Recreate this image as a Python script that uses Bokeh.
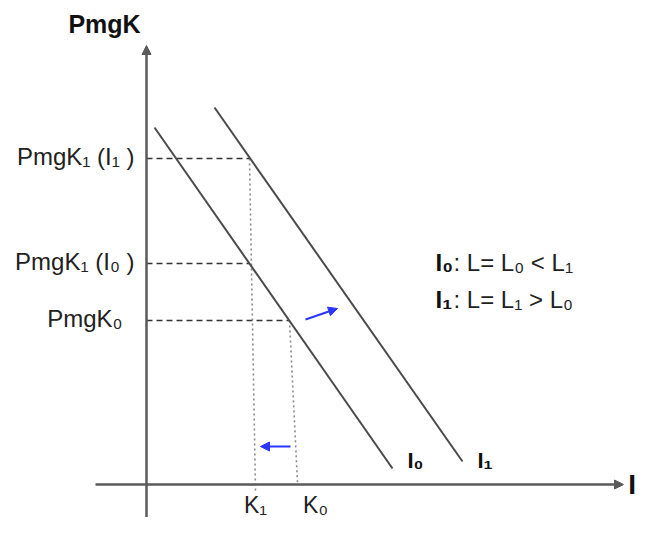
from bokeh.plotting import figure
from bokeh.models import Arrow, NormalHead, ColumnDataSource, Range1d
from bokeh.core.properties import value
from bokeh.embed import file_html
from bokeh.resources import INLINE

# ---------------- data (K on x, PmgK on y) ----------------
iso_names = ["I₀", "I₁"]
iso_k_start = [0.8, 6.8]
iso_p_start = [35.7, 37.7]
iso_k_end = [24.6, 31.6]
iso_p_end = [1.6, 2.3]

pmgk_labels = ["PmgK₁ (I₁ )", "PmgK₁ (I₀ )", "PmgK₀"]
pmgk_values = [32.6, 22.1, 16.4]
pmgk_k = [10.3, 10.3, 14.3]

k_labels = ["K₁", "K₀"]
k_values = [10.3, 14.3]
k_top = [32.6, 16.4]
k_at_axis = [10.9, 15.1]
k_bottom = [-0.6, 0.2]

shift_k0 = [15.9, 14.4]
shift_p0 = [16.5, 3.8]
shift_k1 = [19.1, 11.4]
shift_p1 = [17.6, 3.8]

legend_bold = ["I₀", "I₁"]
legend_rest = [": L= L₀ < L₁", ": L= L₁ > L₀"]
legend_p = [22.2, 18.5]

axis_k_range = [-5.1, 47.7]
axis_p_range = [-3.3, 43.9]

# ---------------- figure ----------------
FONT = value("Liberation Sans")
W, H = 636, 517
p = figure(width=W, height=H, x_range=Range1d(-14.6, 49.0), y_range=Range1d(-3.3, 48.4),
           output_backend="svg", toolbar_location=None,
           x_axis_location=None, y_axis_location=None, min_border=0)
p.grid.visible = False
p.outline_line_color = None
p.background_fill_color = "white"

AX = "#5a5a5a"
LINE = "#4a4a4a"
BLUE = "#2a35ff"

# axes as arrows
p.add_layout(Arrow(x_start=0, y_start=axis_p_range[0], x_end=0, y_end=axis_p_range[1],
                   line_color=AX, line_width=2.5,
                   end=NormalHead(size=9, fill_color=AX, line_color=AX, line_width=1)))
p.add_layout(Arrow(x_start=axis_k_range[0], y_start=0, x_end=axis_k_range[1], y_end=0,
                   line_color=AX, line_width=2.5,
                   end=NormalHead(size=9, fill_color=AX, line_color=AX, line_width=1)))

# dashed horizontal guides
p.segment(x0=[0] * len(pmgk_values), y0=pmgk_values, x1=pmgk_k, y1=pmgk_values,
          line_color="#333333", line_width=1.7, line_dash="6 4")

# dotted vertical guides
p.segment(x0=k_values, y0=k_top, x1=k_at_axis, y1=k_bottom,
          line_color="#8a8a8a", line_width=1.6, line_dash="2 3")

# isoquant lines
p.segment(x0=iso_k_start, y0=iso_p_start, x1=iso_k_end, y1=iso_p_end,
          line_color=LINE, line_width=2)

# blue shift arrows
src = ColumnDataSource(dict(x0=shift_k0, y0=shift_p0, x1=shift_k1, y1=shift_p1))
p.add_layout(Arrow(source=src, x_start="x0", y_start="y0", x_end="x1", y_end="y1",
                   line_color=BLUE, line_width=2,
                   end=NormalHead(size=9, fill_color=BLUE, line_color=BLUE, line_width=1)))

# texts
p.text(x=[-4.2], y=[46.1], text=["PmgK"], text_font=FONT, text_font_size="25px",
       text_font_style="bold", text_align="center", text_baseline="middle", text_color="#111111")
p.text(x=[48.95], y=[0.0], text=["I"], text_font=FONT, text_font_size="28px",
       text_font_style="bold", text_align="right", text_baseline="middle", text_color="#111111")

lab_dx = [-1.2, -1.2, -2.4]
p.text(x=lab_dx, y=[v + 0.2 for v in pmgk_values], text=pmgk_labels, text_font=FONT,
       text_font_size="24px", text_align="right", text_baseline="middle", text_color="#222222")

k_lab_dx = [0.0, 1.8]
p.text(x=[k + d for k, d in zip(k_at_axis, k_lab_dx)], y=[-2.05, -2.05], text=k_labels,
       text_font=FONT, text_font_size="23px", text_align="center", text_baseline="middle",
       text_color="#222222")

p.text(x=[k + 1.5 for k in iso_k_end], y=[2.4, 2.4], text=iso_names, text_font=FONT,
       text_font_size="22px", text_font_style="bold", text_align="left", text_baseline="middle",
       text_color="#111111")

p.text(x=[28.9, 28.9], y=legend_p, text=legend_bold, text_font=FONT, text_font_size="24px",
       text_font_style="bold", text_align="left", text_baseline="middle", text_color="#111111")
p.text(x=[30.7, 30.7], y=legend_p, text=legend_rest, text_font=FONT, text_font_size="24px",
       text_align="left", text_baseline="middle", text_color="#222222")

open("out.html", "w").write(file_html(p, INLINE))
